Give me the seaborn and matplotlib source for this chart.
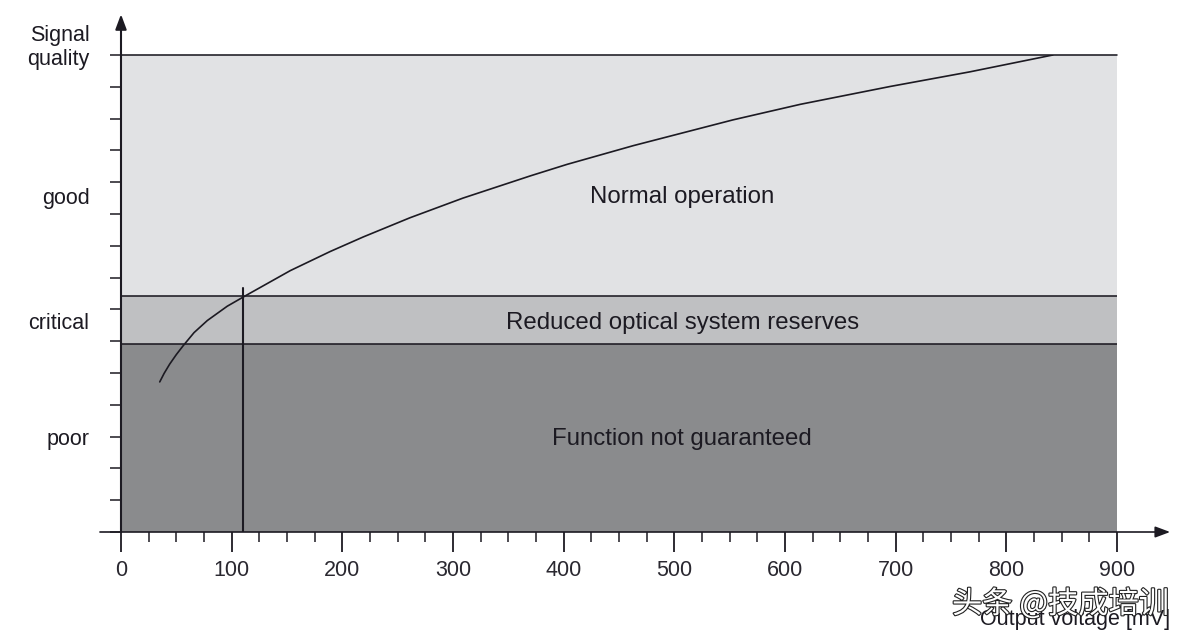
"""
Signal quality vs. output voltage chart.
"""

import matplotlib.patheffects as pe
import matplotlib.pyplot as plt
import pandas as pd
import seaborn as sns

# Curve
voltage = [35, 39, 44, 50, 56, 66, 78, 96, 112, 153, 189, 219, 261, 309, 370, 403, 463, 553, 614, 695, 767, 842]
quality = [4.72, 4.99, 5.28, 5.58, 5.85, 6.27, 6.65, 7.10, 7.42, 8.22, 8.82, 9.28, 9.88, 10.50, 11.20, 11.56, 12.15,
           12.96, 13.45, 14.01, 14.47, 15.0]

band_edges = [0, 5.9, 7.42, 15]
band_colors = ["#8a8b8d", "#bfc0c2", "#e1e2e4"]
band_labels = ["Function not guaranteed", "Reduced optical system reserves", "Normal operation"]
band_label_y = [2.93, 6.56, 10.52]

quality_names = ["poor", "critical", "good"]
quality_name_y = [2.92, 6.57, 10.49]

x_major = [0, 100, 200, 300, 400, 500, 600, 700, 800, 900]
x_minor = [v for v in range(0, 901, 25) if v % 100 != 0]
y_ticks = list(range(0, 16))
threshold_voltage = 110

INK = "#1c1a22"
W, H = 1188, 636

sns.set_theme(style="white")
plt.rcParams["font.family"] = ["Liberation Sans", "DejaVu Sans"]

fig = plt.figure(figsize=(W / 100, H / 100), dpi=100)
ax = fig.add_axes([121 / W, (H - 532) / H, (1117 - 121) / W, (532 - 55) / H])

for i, color in enumerate(band_colors):
    ax.axhspan(band_edges[i], band_edges[i + 1], color=color, lw=0, zorder=0)
    ax.text(507, band_label_y[i], band_labels[i], ha="center", va="center", fontsize=17.3, color=INK)
    if i:
        ax.axhline(band_edges[i], color=INK, lw=1.15, zorder=2)
ax.axhline(band_edges[-1], color=INK, lw=1.15, zorder=2, clip_on=False)

df = pd.DataFrame({"voltage": voltage, "quality": quality})
sns.lineplot(data=df, x="voltage", y="quality", ax=ax, color=INK, lw=1.2, zorder=3)
ax.plot([threshold_voltage, threshold_voltage], [0, 7.67], color=INK, lw=1.5, zorder=3)

ax.set_xlim(0, 900)
ax.set_ylim(0, 15)
ax.set_xlabel("")
ax.set_ylabel("")
sns.despine(ax=ax, top=True, right=True, left=True, bottom=True)

ax.set_xticks(x_major)
ax.set_xticks(x_minor, minor=True)
ax.set_yticks(y_ticks)
ax.set_yticklabels([])
ax.tick_params(axis="x", which="major", length=14.5, width=1.3, color=INK, labelsize=15.5, labelcolor="#2a2830", pad=5.5,
               bottom=True)
ax.tick_params(axis="x", which="minor", length=7.5, width=1.1, color=INK, bottom=True)
ax.tick_params(axis="y", which="major", length=8, width=1.1, color=INK, left=True)

# Axis arrows run past the plot area on both ends
ax.annotate("", xy=(948, 0), xytext=(-19, 0), annotation_clip=False,
            arrowprops=dict(arrowstyle="-|>,head_length=0.75,head_width=0.28", color=INK, lw=1.2,
                            shrinkA=0, shrinkB=0))
ax.annotate("", xy=(0, 16.28), xytext=(0, 0), annotation_clip=False,
            arrowprops=dict(arrowstyle="-|>,head_length=0.75,head_width=0.28", color=INK, lw=1.5,
                            shrinkA=0, shrinkB=0))

for name, y in zip(quality_names, quality_name_y):
    ax.text(-28.5, y, name, ha="right", va="center", fontsize=15.5, color=INK)
fig.text(89.5 / W, 1 - 35 / H, "Signal", ha="right", va="center", fontsize=15.5, color=INK)
fig.text(89.5 / W, 1 - 60 / H, "quality", ha="right", va="center", fontsize=15.5, color=INK)

fig.text(1170 / W, 1 - 619 / H, "Output voltage [mV]", ha="right", va="center", fontsize=15.5, color=INK)

# Watermark sits on top of the axis title
mark = fig.text(1169 / W, 1 - 604 / H, "头条 @技成培训", ha="right", va="center", fontsize=21.8, color="white",
                family=["Noto Sans CJK SC", "DejaVu Sans"])
mark.set_path_effects([pe.withStroke(linewidth=1.6, foreground="#222222")])

fig.savefig("out.png", dpi=100, facecolor="white")
